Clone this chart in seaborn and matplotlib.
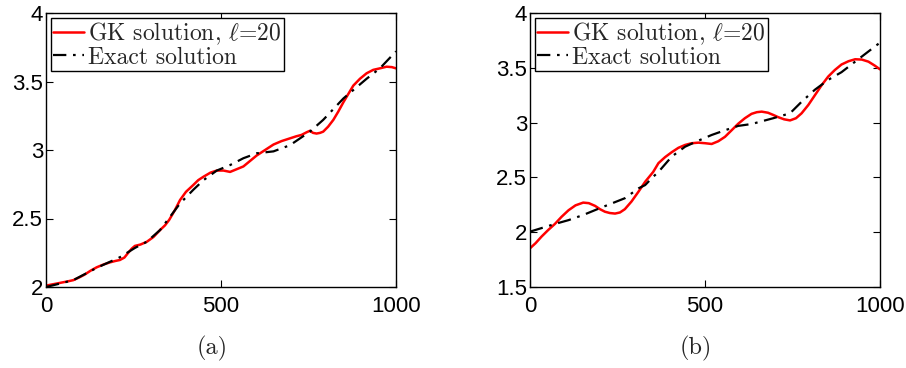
import numpy as np
import pandas as pd
import matplotlib
matplotlib.use("Agg")
import matplotlib.pyplot as plt
import seaborn as sns

# ---------------- data ----------------
xa_gk = [0, 20, 40, 60, 78, 95, 110, 128, 145, 165, 183, 198, 211, 224, 235, 245, 254,
         270, 288, 307, 326, 340, 352, 368, 383, 400, 421, 435, 450, 470, 488, 507, 526,
         545, 564, 583, 602, 626, 650, 673, 697, 715, 730, 745, 754, 763, 773, 783, 792,
         806, 821, 835, 850, 864, 878, 897, 916, 935, 954, 973, 988, 1000]
ya_gk = [2.01, 2.02, 2.03, 2.04, 2.05, 2.07, 2.09, 2.12, 2.144, 2.165, 2.18, 2.19, 2.197,
         2.215, 2.25, 2.28, 2.30, 2.31, 2.33, 2.365, 2.416, 2.45, 2.49, 2.56, 2.635, 2.695,
         2.745, 2.78, 2.805, 2.835, 2.85, 2.85, 2.84, 2.86, 2.88, 2.92, 2.96, 3.00, 3.04,
         3.065, 3.085, 3.10, 3.11, 3.13, 3.14, 3.125, 3.12, 3.125, 3.134, 3.17, 3.22, 3.28,
         3.35, 3.41, 3.47, 3.52, 3.56, 3.585, 3.596, 3.608, 3.605, 3.596]
xa_ex = [0, 40, 78, 145, 211, 254, 288, 326, 383, 421, 450, 488, 526, 564, 602, 650,
         697, 754, 792, 850, 916, 954, 1000]
ya_ex = [2.0, 2.025, 2.05, 2.14, 2.217, 2.285, 2.33, 2.416, 2.61, 2.71, 2.78, 2.85, 2.89,
         2.94, 2.976, 2.99, 3.035, 3.134, 3.22, 3.377, 3.52, 3.596, 3.72]

xb_gk = [0, 16, 33, 52, 71, 90, 110, 130, 152, 168, 186, 200, 214, 228, 243, 257, 271,
         290, 310, 329, 352, 367, 386, 405, 424, 443, 462, 481, 500, 519, 538, 557, 576,
         595, 614, 633, 648, 662, 680, 695, 709, 726, 743, 760, 776, 795, 814, 833, 852,
         871, 890, 910, 929, 948, 967, 985, 1000]
yb_gk = [1.853, 1.90, 1.96, 2.02, 2.075, 2.14, 2.20, 2.245, 2.27, 2.265, 2.24, 2.21, 2.187,
         2.175, 2.17, 2.18, 2.21, 2.28, 2.37, 2.46, 2.55, 2.63, 2.685, 2.73, 2.77, 2.796,
         2.812, 2.817, 2.812, 2.805, 2.83, 2.87, 2.93, 2.99, 3.04, 3.08, 3.095, 3.10, 3.09,
         3.07, 3.05, 3.03, 3.02, 3.04, 3.085, 3.16, 3.25, 3.34, 3.42, 3.48, 3.53, 3.56,
         3.578, 3.575, 3.556, 3.52, 3.486]
xb_ex = [0, 71, 110, 152, 200, 271, 310, 329, 352, 367, 405, 443, 481, 519, 557, 595, 633,
         695, 743, 776, 814, 852, 890, 929, 1000]
yb_ex = [2.005, 2.075, 2.11, 2.157, 2.22, 2.31, 2.40, 2.43, 2.506, 2.55, 2.69, 2.78, 2.835,
         2.887, 2.93, 2.97, 2.987, 3.04, 3.085, 3.19, 3.30, 3.39, 3.46, 3.556, 3.73]

x_ticks = [0, 500, 1000]
x_ticklabels = ["0", "500", "1000"]
ya_ticks = [2, 2.5, 3, 3.5, 4]
ya_ticklabels = ["2", "2.5", "3", "3.5", "4"]
yb_ticks = [1.5, 2, 2.5, 3, 3.5, 4]
yb_ticklabels = ["1.5", "2", "2.5", "3", "3.5", "4"]
labels = ["GK solution, $\\ell$=20", "Exact solution"]
captions = ["(a)", "(b)"]

# ---------------- style ----------------
sns.set_style("ticks")
plt.rcParams["font.family"] = ["Liberation Sans", "DejaVu Sans"]
plt.rcParams["mathtext.fontset"] = "cm"

W, H = 906, 368
fig = plt.figure(figsize=(W / 100, H / 100), dpi=100)

panels = [
    dict(left=46, right=396, ylim=(2, 4), yt=ya_ticks, ytl=ya_ticklabels,
         gk=(xa_gk, ya_gk), ex=(xa_ex, ya_ex), cap=captions[0]),
    dict(left=530, right=880, ylim=(1.5, 4), yt=yb_ticks, ytl=yb_ticklabels,
         gk=(xb_gk, yb_gk), ex=(xb_ex, yb_ex), cap=captions[1]),
]
top, bottom = 13, 287

for p in panels:
    ax = fig.add_axes([p["left"] / W, 1 - bottom / H, (p["right"] - p["left"]) / W,
                       (bottom - top) / H])
    dgk = pd.DataFrame({"x": p["gk"][0], "y": p["gk"][1]})
    dex = pd.DataFrame({"x": p["ex"][0], "y": p["ex"][1]})
    sns.lineplot(data=dgk, x="x", y="y", ax=ax, color="red", lw=1.8,
                 label=labels[0], errorbar=None)
    sns.lineplot(data=dex, x="x", y="y", ax=ax, color="black", lw=1.6,
                 linestyle=(0, (6, 3, 1.2, 3)), label=labels[1], errorbar=None)
    ax.set_xlim(0, 1000)
    ax.set_ylim(*p["ylim"])
    ax.set_xticks(x_ticks)
    ax.set_xticklabels(x_ticklabels)
    ax.set_yticks(p["yt"])
    ax.set_yticklabels(p["ytl"])
    ax.set_xlabel("")
    ax.set_ylabel("")
    ax.tick_params(direction="in", top=True, right=True, length=5, width=0.8,
                   labelsize=16, colors="black")
    ax.tick_params(axis="y", pad=2)
    ax.tick_params(axis="x", pad=6.5)
    for s in ax.spines.values():
        s.set_visible(True)
        s.set_linewidth(1.0)
        s.set_color("black")
    leg = ax.legend(loc="upper left", handlelength=1.3, fancybox=False,
                    edgecolor="black", framealpha=1,
                    prop={"family": "cmr10", "size": 17},
                    borderaxespad=0.2, borderpad=0.1, labelspacing=0.0,
                    handletextpad=0.2)
    leg.get_frame().set_linewidth(1.0)
    cx = ((p["left"] + p["right"]) / 2 - 9) / W
    fig.text(cx, 1 - 348 / H, p["cap"], family="cmr10", size=17.5,
             ha="center", va="center")

fig.savefig("out.png", dpi=100)
